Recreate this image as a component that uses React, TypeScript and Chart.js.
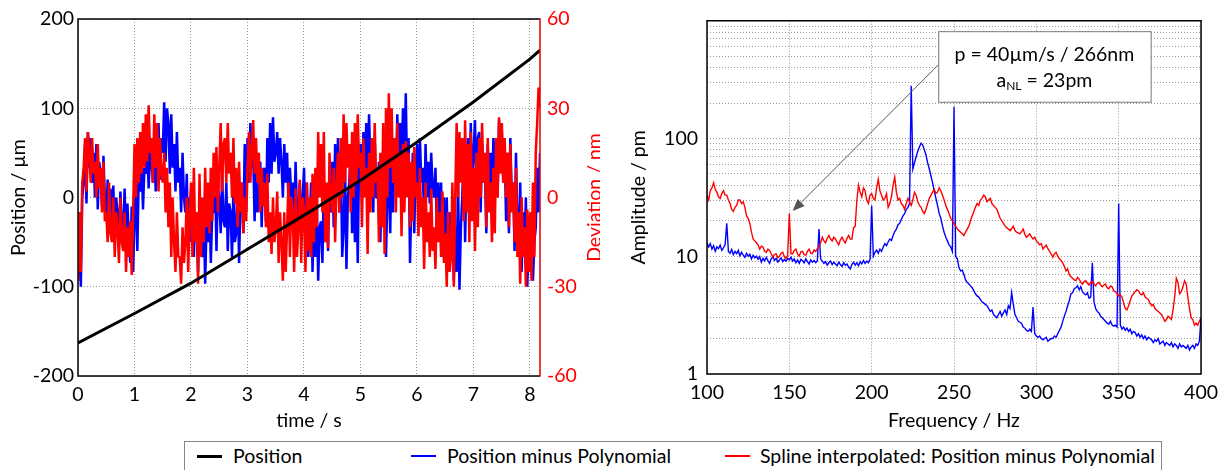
import React, { useEffect, useRef } from 'react';
import { Chart, registerables } from 'chart.js';
Chart.register(...registerables);

// ---------------- data: left panel ----------------
const POS_TIME_S = [0, 1, 2, 3, 4, 5, 6, 7, 8, 8.18];
const POS_UM = [-163, -130, -96, -58, -20, 19, 62, 107, 155, 165];
const T_END_S = 8.18;
const TIME_TICKS = [0, 1, 2, 3, 4, 5, 6, 7, 8];

// deviation signals (nm), 4 samples per 0.1 s
const BLUE_NM = [
  -28,-5,-30,0, 5,18,-2,22, 10,20,5,15, 0,18,-4,12, 8,-3,14,0, -8,6,-12,3, -10,4,-14,0, -5,-15,2,-10, -12,3,-18,-2, -15,-22,-3,-25,
  -8,5,-18,8, 2,14,-4,10, 8,18,3,15, 12,5,20,2, 10,25,6,20, 15,32,12,30, 25,8,28,10, 18,2,22,5, 10,-5,15,0, -5,8,-18,0,
  -15,2,-20,-5, -10,-25,0,-18, -20,-5,-29,-8, -15,2,-22,-5, -5,8,-18,3, 0,-12,8,-8, -10,5,-18,-2, -5,-20,3,-15, -12,8,-22,0, 5,-12,18,-5,
  20,5,25,10, 15,-8,12,-5, 0,12,-10,8, 10,-8,20,5, 25,8,27,12, 15,22,8,20, 12,0,18,5, 15,-3,10,0, 5,-10,12,-5, -8,5,-12,0,
  10,-15,5,-20, -10,5,-25,-5, -20,0,-28,-10, -8,-22,5,-15, 0,-18,10,-5, 12,-10,18,0, 20,-5,15,-20, -10,10,-24,0, 5,15,-12,10, -15,10,-22,15,
  18,0,22,5, 25,8,28,10, 15,-5,20,0, 0,12,-15,5, -10,5,-20,0, 10,-12,18,-5, 20,5,28,10, 25,8,30,12, 35,5,20,-22, 0,15,-12,10,
  18,-5,20,5, 10,-8,18,0, 12,-2,15,3, 0,10,-12,5, -10,5,-20,0, -15,0,-22,-5, -20,-5,-28,-10, -25,5,-31,-10, 0,18,-15,10, 20,0,25,5,
  15,26,0,20, 22,-5,18,5, 10,-12,18,0, 15,-5,20,5, 20,0,26,10, 22,5,18,-8, 15,-12,20,0, 5,-18,15,-10, -15,5,-25,-5, -20,0,-30,-15,
  -25,-5,-28,-15, -10,10,-5,15,
];
const RED_NM = [
  -28,-5,-25,5, 10,20,2,22, 15,5,20,8, 12,0,18,3, 10,-5,12,-8, -5,-15,5,-12, -15,0,-20,-5, -10,-22,0,-15, -18,-5,-25,-10, -20,-8,-26,-5,
  18,0,20,5, 22,8,25,10, 28,12,31,15, 20,5,28,10, 25,2,20,8, 5,15,-5,10, -10,5,-20,0, -15,-25,-5,-20, -20,-29,-10,-22, -15,0,-25,-5,
  5,-20,10,-15, -5,-29,8,-20, 0,-15,10,-10, 5,-12,10,-8, 15,0,17,-5, 10,25,2,18, 20,5,25,8, 15,0,20,-2, 10,-10,12,-5, 5,-12,0,-8,
  10,22,5,15, 26,8,20,5, 15,-5,10,-3, 5,-10,8,-15, -5,-19,0,-15, -10,2,-22,-5, -15,-28,-5,-25, -10,5,-20,0, -5,-25,3,-20, -10,6,-22,0,
  -5,-25,5,-18, 0,-20,8,-15, 10,-10,22,0, 18,-5,22,-15, 5,-17,15,0, -5,10,-15,5, 15,-5,20,0, 28,5,25,10, 18,-5,22,0, 25,5,28,10,
  15,-10,20,0, 10,-19,15,-5, 20,0,25,5, 10,-15,15,-10, 25,-19,30,0, 35,10,30,5, 20,-5,25,0, 15,-13,18,-5, 19,0,15,-10, 12,-8,17,0,
  5,-13,10,-10, 0,-24,5,-15, -5,-20,3,-18, -10,-24,0,-15, -5,-20,2,-22, -12,-30,-5,-25, -20,5,-30,0, 25,0,22,5, 20,-8,26,-5, 18,-15,22,-8,
  10,-18,15,-10, 20,0,25,5, 15,-10,20,-5, 5,-15,10,-12, 20,0,27,8, 25,5,20,0, 15,-10,18,-5, 5,-15,10,-20, -5,-29,0,-20, -10,-30,-4,-25,
  -5,-28,5,-20, 15,25,37,30,
];

// ---------------- data: right panel (spectrum, 1 Hz steps 100..400) ----------------
const FREQ_START = 100;
const FREQ_STEP = 1;
const BLUE_PM = [
  13,12,12.8,11.5,12.3,11,12,11.6,12.4,11.2,
  11.8,12.5,19,11,10.6,11.4,10.3,11,10.5,11.2,
  10.1,10.8,10.2,9.8,10.6,10,10.4,9.5,10.2,9.7,
  10,9.4,9.9,8.9,9.6,9.1,9.8,9.2,8.7,9.5,
  9.9,9.2,9.6,8.9,9.3,9.7,9,9.4,9.1,9.6,
  9.3,9.8,9.1,9.5,8.8,9.3,8.7,9.4,9.2,8.8,
  9.5,9,8.6,9.3,8.9,9.2,8.8,9.1,17,9.5,
  9.1,8.7,9,8.4,8.8,9.1,8.5,8.9,8.6,8.3,
  8.9,8.5,8.2,8.8,8.4,8.6,8.1,7.8,8.5,8.9,
  8.4,8.8,8.3,9,8.6,9.2,8.7,9.1,8.8,9.4,
  27,10,10.8,11.3,10.6,11.5,11,12,12.8,12.3,
  13.2,14,13.6,15,16.2,17,18.5,19,20.5,22,
  23,25,26,28,280,55,62,70,78,85,
  91,88,80,72,62,55,48,42,36,31,
  27,23,21,18,16,14.5,13.5,12.5,12,11,
  186,10,9.5,8,7.5,7.6,7,6.3,6,5.8,
  5.6,5.4,5.1,4.8,4.6,4.5,4.3,4.1,4,3.9,
  3.8,3.6,3.4,3.5,3.2,3.1,3.0,3.2,3.4,3.1,
  3.3,3.5,3.2,3.8,3.6,4.9,3.9,3.2,3.0,2.8,
  2.75,2.7,2.5,2.45,2.35,2.3,2.4,2.3,3.7,2.2,
  2.1,2.05,2.1,2.0,1.95,2.0,2.05,1.9,1.95,2.0,
  2.0,2.1,2.05,2.2,2.35,2.5,2.8,3.1,3.4,3.8,
  4.2,4.8,4.9,5.3,5.4,5.6,5.2,5.5,5.0,4.8,
  4.7,4.9,4.4,4.5,8.8,4.1,3.6,3.4,3.3,3.1,
  3.0,2.9,2.8,2.7,2.65,2.8,2.6,2.55,2.6,2.5,
  28,2.6,2.4,2.5,2.35,2.45,2.3,2.4,2.2,2.3,
  2.25,2.1,2.2,2.05,2.15,2.0,2.1,1.95,2.05,2.0,
  1.95,1.85,1.95,1.9,2.0,1.8,1.85,1.9,1.75,1.85,
  1.8,1.75,1.85,1.7,1.8,1.75,1.65,1.8,1.7,1.75,
  1.7,1.65,1.75,1.6,1.7,1.75,1.65,1.8,1.75,1.9,
  3.0,
];
const RED_PM = [
  33,30,36,38,42,37,35,32,31,34,
  36,33,33,30,28,25,24,26,27,30,
  30,28,29,26,22,21,19,16,14,13.5,
  13,12.5,11.5,12.2,12,11,10.8,11.5,11.2,10.5,
  9.8,10.4,10.5,9.7,10,10.6,10.8,9.9,9.6,10.2,
  23,10.5,10.5,11.2,11.5,10.4,10,10.9,11,10.3,
  10.2,11,11.5,10.6,10.5,11.3,11,11.6,12,13,
  14.5,13.5,13,14.2,15,14,13.5,14.5,14,13.2,
  12.5,13.8,14.5,13.5,13,14.2,15,14,14,17.5,
  18,30,40,35,32,38,36,30,28,33,
  34,31,30,38,45,36,33,30,31,34,
  26,28,32,40,47,35,30,31,28,27,
  25,28,31,29,27,30,35,33,29,27,
  26,24,23,25,28,31,33,35,37,34,
  35,38,36,33,30,27,25,23,21,20,
  19,18,17,16.5,16,15.5,15,16,17,18,
  20,22,24,26,28,27,30,31,33,32,
  29,30,31,28,27,26,25,23,21,20,
  19,18,17.5,17,16.5,17.2,18,16.5,16,15.8,
  15.5,16.2,17,15.4,14.5,15,15.5,14.6,14,14.5,
  13.5,13,12.5,12.8,11.5,12,12.4,11.6,11,10.5,
  9.8,10.5,10.8,10,9.5,9.2,8.8,8.2,7.5,7.8,
  7.0,6.7,6.5,6.3,6.2,6.6,6.4,6.0,5.8,6.1,
  6.2,5.9,5.7,6.0,6.1,5.8,5.6,5.9,6.0,5.7,
  5.5,5.7,5.8,5.4,5.3,5.6,5.5,5.1,5.0,4.8,
  4.6,4.7,4.5,4.0,3.6,3.5,3.8,4.2,4.6,4.8,
  5.0,5.2,5.1,4.8,4.7,4.9,4.5,4.4,4.3,4.0,
  3.8,3.9,3.6,3.5,3.4,3.3,3.2,3.0,2.8,2.9,
  3.1,3.0,2.9,3.5,4.5,6.5,6.0,4.8,5.0,5.5,
  6.2,5.8,4.5,3.6,3.0,2.9,2.6,2.7,2.6,2.8,
  3.0,
];
const LOG_TICKS = [1,2,3,4,5,6,7,8,9,10,20,30,40,50,60,70,80,90,100,200,300,400,500,600,700,800,900,1000];
const LOG_LABELS = [1, 10, 100];

// annotation (data space of right panel)
const NOTE_BOX = { f1: 240.4, f2: 369.4, a1: 815, a2: 205 };
const NOTE_ARROW = { fromF: 240.4, fromA: 421, toF: 152, toA: 24.2 };
const NOTE_LINE1 = 'p = 40µm/s / 266nm';
const NOTE_LINE2 = ['a', 'NL', ' = 23pm'];

const LABELS = ['Position', 'Position minus Polynomial', 'Spline interpolated: Position minus Polynomial'];
const COLORS = ['#000000', '#0000ff', '#ff0000'];

const FONT = 'Lato';
const FS = 19.5;

const framePlugin = (rightColor: string) => ({
  id: 'frame',
  afterDraw(chart: any) {
    const { ctx, chartArea: { left, right, top, bottom } } = chart;
    ctx.save();
    ctx.lineWidth = 1.5;
    ctx.strokeStyle = '#000';
    ctx.beginPath();
    ctx.moveTo(right, top); ctx.lineTo(left, top); ctx.lineTo(left, bottom); ctx.lineTo(right, bottom);
    ctx.stroke();
    ctx.strokeStyle = rightColor;
    ctx.beginPath(); ctx.moveTo(right, top - 0.75); ctx.lineTo(right, bottom + 0.75); ctx.stroke();
    ctx.restore();
  },
});

const y2TitlePlugin = {
  id: 'y2title',
  afterDraw(chart: any) {
    const { ctx, chartArea: { top, bottom } } = chart;
    ctx.save();
    ctx.translate(595, (top + bottom) / 2);
    ctx.rotate(-Math.PI / 2);
    ctx.font = `${FS}px ${FONT}`;
    ctx.fillStyle = '#ff0000';
    ctx.textAlign = 'center';
    ctx.textBaseline = 'middle';
    ctx.fillText('Deviation / nm', 0, 0);
    ctx.restore();
  },
};

const notePlugin = {
  id: 'note',
  afterDraw(chart: any) {
    const { ctx, scales: { x, y } } = chart;
    const bx1 = x.getPixelForValue(NOTE_BOX.f1), bx2 = x.getPixelForValue(NOTE_BOX.f2);
    const by1 = y.getPixelForValue(NOTE_BOX.a1), by2 = y.getPixelForValue(NOTE_BOX.a2);
    const ax1 = x.getPixelForValue(NOTE_ARROW.fromF), ay1 = y.getPixelForValue(NOTE_ARROW.fromA);
    const ax2 = x.getPixelForValue(NOTE_ARROW.toF), ay2 = y.getPixelForValue(NOTE_ARROW.toA);
    ctx.save();
    ctx.strokeStyle = '#555';
    ctx.fillStyle = '#555';
    ctx.lineWidth = 1;
    const ang = Math.atan2(ay2 - ay1, ax2 - ax1);
    const hl = 12, hw = 5;
    const bx = ax2 - hl * Math.cos(ang), byy = ay2 - hl * Math.sin(ang);
    ctx.beginPath(); ctx.moveTo(ax1, ay1); ctx.lineTo(bx, byy); ctx.stroke();
    ctx.beginPath();
    ctx.moveTo(ax2, ay2);
    ctx.lineTo(bx + hw * Math.sin(ang), byy - hw * Math.cos(ang));
    ctx.lineTo(bx - hw * Math.sin(ang), byy + hw * Math.cos(ang));
    ctx.closePath(); ctx.fill();
    ctx.fillStyle = '#fff';
    ctx.fillRect(bx1, by1, bx2 - bx1, by2 - by1);
    ctx.strokeStyle = '#777';
    ctx.strokeRect(bx1 + 0.5, by1 + 0.5, bx2 - bx1, by2 - by1);
    const cx = (bx1 + bx2) / 2;
    ctx.fillStyle = '#000';
    ctx.textBaseline = 'middle';
    ctx.textAlign = 'center';
    const big = `${FS}px ${FONT}`;
    const small = `12px ${FONT}`;
    ctx.font = big;
    ctx.fillText(NOTE_LINE1, cx, by1 + 24);
    ctx.textAlign = 'left';
    const w0 = ctx.measureText(NOTE_LINE2[0]).width;
    const w2 = ctx.measureText(NOTE_LINE2[2]).width;
    ctx.font = small;
    const w1 = ctx.measureText(NOTE_LINE2[1]).width;
    let sx = cx - (w0 + w1 + w2) / 2;
    const ly = by1 + 50;
    ctx.font = big;
    ctx.fillText(NOTE_LINE2[0], sx, ly); sx += w0;
    ctx.font = small;
    ctx.fillText(NOTE_LINE2[1], sx, ly + 5); sx += w1;
    ctx.font = big;
    ctx.fillText(NOTE_LINE2[2], sx, ly);
    ctx.restore();
  },
};

const gridCommon = { color: '#999', lineWidth: 1, drawTicks: false };
const borderCommon = { display: false, dash: [1, 2] };
const tickFont = { size: FS, family: FONT };

function LeftChart() {
  const ref = useRef<HTMLCanvasElement>(null);
  useEffect(() => {
    const n = BLUE_NM.length;
    const tAt = (i: number) => (i * T_END_S) / (n - 1);
    const noise = { borderWidth: 2.5, pointRadius: 0, borderJoinStyle: 'bevel', yAxisID: 'y2' };
    const chart = new Chart(ref.current!, {
      type: 'line',
      data: {
        datasets: [
          { label: LABELS[0], data: POS_TIME_S.map((t, i) => ({ x: t, y: POS_UM[i] })), borderColor: COLORS[0], borderWidth: 3, pointRadius: 0, yAxisID: 'y', order: 0 },
          { ...noise, label: LABELS[1], data: BLUE_NM.map((v, i) => ({ x: tAt(i), y: v })), borderColor: COLORS[1], order: 2 },
          { ...noise, label: LABELS[2], data: RED_NM.map((v, i) => ({ x: tAt(i), y: v })), borderColor: COLORS[2], order: 1 },
        ],
      },
      options: {
        animation: false,
        responsive: false,
        maintainAspectRatio: false,
        layout: { padding: { top: 19, left: 0, right: 0, bottom: 0 } },
        plugins: { legend: { display: false }, tooltip: { enabled: false } },
        scales: {
          x: {
            type: 'linear', min: 0, max: T_END_S,
            afterBuildTicks: (s: any) => { s.ticks = TIME_TICKS.map((v) => ({ value: v })); },
            ticks: { autoSkip: false, color: '#000', padding: 7, font: tickFont },
            grid: gridCommon, border: borderCommon,
            title: { display: true, text: 'time / s', color: '#000', font: tickFont, padding: { top: 0, bottom: 8 } },
            afterFit: (s: any) => { s.height = 64; },
          },
          y: {
            type: 'linear', position: 'left', min: -200, max: 200,
            ticks: { stepSize: 100, color: '#000', padding: 4, font: tickFont },
            grid: gridCommon, border: borderCommon,
            title: { display: true, text: 'Position / µm', color: '#000', font: tickFont, padding: { top: 7, bottom: 0 } },
            afterFit: (s: any) => { s.width = 78; },
          },
          y2: {
            type: 'linear', position: 'right', min: -60, max: 60,
            ticks: { stepSize: 30, color: '#ff0000', padding: 7, font: tickFont },
            grid: { display: false, drawTicks: false }, border: { display: false },
            afterFit: (s: any) => { s.width = 60; },
          },
        },
      },
      plugins: [framePlugin('#e00000'), y2TitlePlugin],
    } as any);
    return () => chart.destroy();
  }, []);
  return <canvas ref={ref} width={600} height={440} style={{ position: 'absolute', left: 0, top: 0, width: 600, height: 440 }} />;
}

function RightChart() {
  const ref = useRef<HTMLCanvasElement>(null);
  useEffect(() => {
    const fAt = (i: number) => FREQ_START + i * FREQ_STEP;
    const chart = new Chart(ref.current!, {
      type: 'line',
      data: {
        datasets: [
          { label: LABELS[1], data: BLUE_PM.map((v, i) => ({ x: fAt(i), y: v })), borderColor: COLORS[1], borderWidth: 1.4, pointRadius: 0, order: 2 },
          { label: LABELS[2], data: RED_PM.map((v, i) => ({ x: fAt(i), y: v })), borderColor: COLORS[2], borderWidth: 1.4, pointRadius: 0, order: 1 },
        ],
      },
      options: {
        animation: false,
        responsive: false,
        maintainAspectRatio: false,
        layout: { padding: { top: 18, left: 0, right: 22, bottom: 0 } },
        plugins: { legend: { display: false }, tooltip: { enabled: false } },
        scales: {
          x: {
            type: 'linear', min: 100, max: 400,
            ticks: { stepSize: 50, color: '#000', padding: 7, font: tickFont },
            grid: gridCommon, border: borderCommon,
            title: { display: true, text: 'Frequency / Hz', color: '#000', font: tickFont, padding: { top: 0, bottom: 8 } },
            afterFit: (s: any) => { s.height = 66; },
          },
          y: {
            type: 'logarithmic', min: 1, max: 1000,
            afterBuildTicks: (s: any) => { s.ticks = LOG_TICKS.map((v) => ({ value: v })); },
            ticks: {
              autoSkip: false, color: '#000', padding: 9, font: tickFont,
              callback: (v: any) => (LOG_LABELS.includes(Number(v)) ? String(v) : ''),
            },
            grid: gridCommon, border: borderCommon,
            title: { display: true, text: 'Amplitude / pm', color: '#000', font: tickFont, padding: { top: 7, bottom: 0 } },
            afterFit: (s: any) => { s.width = 87; },
          },
        },
      },
      plugins: [framePlugin('#000'), notePlugin],
    } as any);
    return () => chart.destroy();
  }, []);
  return <canvas ref={ref} width={605} height={440} style={{ position: 'absolute', left: 620, top: 0, width: 605, height: 440 }} />;
}

function Legend() {
  const items = [
    { line: 12, text: 48, width: 3 },
    { line: 226, text: 262, width: 1.5 },
    { line: 540, text: 575, width: 1.5 },
  ];
  return (
    <div style={{ position: 'absolute', left: 184, top: 441, width: 976, height: 40, border: '1px solid #888', background: '#fff', fontFamily: FONT, fontSize: FS, color: '#000' }}>
      {items.map((it, i) => (
        <React.Fragment key={i}>
          <div style={{ position: 'absolute', left: it.line, top: 14 - it.width / 2, width: 25, height: it.width, background: COLORS[i] }} />
          <div style={{ position: 'absolute', left: it.text, top: 2, lineHeight: '23px', whiteSpace: 'nowrap' }}>{LABELS[i]}</div>
        </React.Fragment>
      ))}
    </div>
  );
}

export default function App() {
  return (
    <div style={{ position: 'absolute', left: 0, top: 0, width: 1225, height: 470, background: '#fff', overflow: 'hidden' }}>
      <LeftChart />
      <RightChart />
      <Legend />
    </div>
  );
}
